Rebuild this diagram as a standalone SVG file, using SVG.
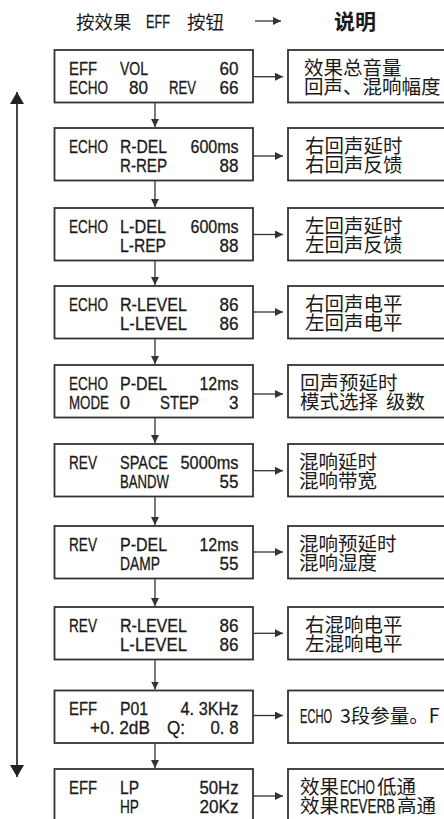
<svg xmlns="http://www.w3.org/2000/svg" width="444" height="819" viewBox="0 0 444 819">
<defs>
<style>
.bx{fill:#fff;stroke:#333;stroke-width:1.8}
.ln{fill:none;stroke:#333;stroke-width:1.3}
.lg{fill:none;stroke:#333;stroke-width:1.8}
.t{font-family:"Liberation Sans",Arial,sans-serif;font-size:18px;fill:#1a1a1a;stroke:#1a1a1a;stroke-width:0.3}
.c{font-family:"Noto Sans CJK SC",sans-serif;font-size:19.5px;fill:#1a1a1a}
.cl{font-family:"Liberation Sans",Arial,sans-serif;font-size:19.5px;fill:#1a1a1a;stroke:#1a1a1a;stroke-width:0.25}
.h{font-family:"Noto Sans CJK SC",sans-serif;font-size:18.5px;fill:#1a1a1a}
.hb{font-family:"Noto Sans CJK SC",sans-serif;font-size:21px;font-weight:bold;fill:#1a1a1a}
</style>
<marker id="ah" markerUnits="userSpaceOnUse" markerWidth="9" markerHeight="8" refX="8" refY="4" orient="auto"><path d="M0,0 L8,4 L0,8 z" fill="#333"/></marker>
<marker id="big" markerUnits="userSpaceOnUse" markerWidth="13" markerHeight="15" refX="12" refY="7" orient="auto-start-reverse"><path d="M0,0 L12,7 L0,14 z" fill="#222"/></marker>
</defs>
<rect width="444" height="819" fill="#fff"/>

<g id="title">
<text class="h" x="76" y="28.5">按效果</text>
<text class="t" x="146" y="28" textLength="24" lengthAdjust="spacingAndGlyphs">EFF</text>
<text class="h" x="187" y="28.5">按钮</text>
<line class="ln" x1="255" y1="21" x2="281" y2="21" marker-end="url(#ah)"/>
<text class="hb" x="334" y="29">说明</text>
</g>

<g id="connectors">
<line class="lg" x1="17" y1="92" x2="17" y2="777" marker-start="url(#big)" marker-end="url(#big)"/>
<line class="ln" x1="254" y1="76.7" x2="283" y2="76.7" marker-end="url(#ah)"/>
<line class="ln" x1="254" y1="156" x2="283" y2="156" marker-end="url(#ah)"/>
<line class="ln" x1="254" y1="234.5" x2="283" y2="234.5" marker-end="url(#ah)"/>
<line class="ln" x1="254" y1="312" x2="283" y2="312" marker-end="url(#ah)"/>
<line class="ln" x1="254" y1="394" x2="283" y2="394" marker-end="url(#ah)"/>
<line class="ln" x1="254" y1="470.7" x2="283" y2="470.7" marker-end="url(#ah)"/>
<line class="ln" x1="254" y1="552" x2="283" y2="552" marker-end="url(#ah)"/>
<line class="ln" x1="254" y1="633.3" x2="283" y2="633.3" marker-end="url(#ah)"/>
<line class="ln" x1="254" y1="715.5" x2="283" y2="715.5" marker-end="url(#ah)"/>
<line class="ln" x1="254" y1="796" x2="283" y2="796" marker-end="url(#ah)"/>
<line class="ln" x1="155" y1="103" x2="155" y2="127" marker-end="url(#ah)"/>
<line class="ln" x1="155" y1="181" x2="155" y2="207" marker-end="url(#ah)"/>
<line class="ln" x1="155" y1="261" x2="155" y2="285" marker-end="url(#ah)"/>
<line class="ln" x1="155" y1="339" x2="155" y2="364" marker-end="url(#ah)"/>
<line class="ln" x1="155" y1="418" x2="155" y2="443" marker-end="url(#ah)"/>
<line class="ln" x1="155" y1="497" x2="155" y2="525" marker-end="url(#ah)"/>
<line class="ln" x1="155" y1="579" x2="155" y2="606" marker-end="url(#ah)"/>
<line class="ln" x1="155" y1="660" x2="155" y2="689.5" marker-end="url(#ah)"/>
<line class="ln" x1="155" y1="743" x2="155" y2="768" marker-end="url(#ah)"/>
</g>

<g id="n1">
<rect class="bx" x="54.5" y="50" width="198.5" height="52.5"/>
<text class="t" y="74.8"><tspan x="69" textLength="28" lengthAdjust="spacingAndGlyphs">EFF</tspan><tspan x="120" textLength="28" lengthAdjust="spacingAndGlyphs">VOL</tspan><tspan x="219.5" textLength="19" lengthAdjust="spacingAndGlyphs">60</tspan><tspan x="69" y="93.8" textLength="39" lengthAdjust="spacingAndGlyphs">ECHO</tspan><tspan x="129" textLength="19" lengthAdjust="spacingAndGlyphs">80</tspan><tspan x="169" textLength="27" lengthAdjust="spacingAndGlyphs">REV</tspan><tspan x="219.5" textLength="19" lengthAdjust="spacingAndGlyphs">66</tspan></text>
</g>
<g id="d1">
<rect class="bx" x="288" y="50" width="200" height="52.5"/>
<text class="c" x="304" y="75">效果总音量<tspan x="304" y="94">回声、混响幅度</tspan></text>
</g>

<g id="n2">
<rect class="bx" x="54.5" y="128" width="198.5" height="52.5"/>
<text class="t" y="152.8"><tspan x="69" textLength="39" lengthAdjust="spacingAndGlyphs">ECHO</tspan><tspan x="120" textLength="47" lengthAdjust="spacingAndGlyphs">R-DEL</tspan><tspan x="190.5" textLength="48" lengthAdjust="spacingAndGlyphs">600ms</tspan><tspan x="120" y="171.8" textLength="47" lengthAdjust="spacingAndGlyphs">R-REP</tspan><tspan x="219.5" textLength="19" lengthAdjust="spacingAndGlyphs">88</tspan></text>
</g>
<g id="d2">
<rect class="bx" x="288" y="128" width="200" height="52.5"/>
<text class="c" x="305" y="153">右回声延时<tspan x="305" y="172">右回声反馈</tspan></text>
</g>

<g id="n3">
<rect class="bx" x="54.5" y="208" width="198.5" height="52.5"/>
<text class="t" y="232.8"><tspan x="69" textLength="39" lengthAdjust="spacingAndGlyphs">ECHO</tspan><tspan x="120" textLength="46" lengthAdjust="spacingAndGlyphs">L-DEL</tspan><tspan x="190.5" textLength="48" lengthAdjust="spacingAndGlyphs">600ms</tspan><tspan x="120" y="251.8" textLength="46" lengthAdjust="spacingAndGlyphs">L-REP</tspan><tspan x="219.5" textLength="19" lengthAdjust="spacingAndGlyphs">88</tspan></text>
</g>
<g id="d3">
<rect class="bx" x="288" y="208" width="200" height="52.5"/>
<text class="c" x="305" y="233">左回声延时<tspan x="305" y="252">左回声反馈</tspan></text>
</g>

<g id="n4">
<rect class="bx" x="54.5" y="286" width="198.5" height="52.5"/>
<text class="t" y="310.8"><tspan x="69" textLength="39" lengthAdjust="spacingAndGlyphs">ECHO</tspan><tspan x="120" textLength="67" lengthAdjust="spacingAndGlyphs">R-LEVEL</tspan><tspan x="219.5" textLength="19" lengthAdjust="spacingAndGlyphs">86</tspan><tspan x="120" y="329.8" textLength="67" lengthAdjust="spacingAndGlyphs">L-LEVEL</tspan><tspan x="219.5" textLength="19" lengthAdjust="spacingAndGlyphs">86</tspan></text>
</g>
<g id="d4">
<rect class="bx" x="288" y="286" width="200" height="52.5"/>
<text class="c" x="305" y="311">右回声电平<tspan x="305" y="330">左回声电平</tspan></text>
</g>

<g id="n5">
<rect class="bx" x="54.5" y="365" width="198.5" height="52.5"/>
<text class="t" y="389.8"><tspan x="69" textLength="39" lengthAdjust="spacingAndGlyphs">ECHO</tspan><tspan x="120" textLength="47" lengthAdjust="spacingAndGlyphs">P-DEL</tspan><tspan x="199.5" textLength="39" lengthAdjust="spacingAndGlyphs">12ms</tspan><tspan x="69" y="408.8" textLength="40" lengthAdjust="spacingAndGlyphs">MODE</tspan><tspan x="120" textLength="10" lengthAdjust="spacingAndGlyphs">0</tspan><tspan x="160" textLength="39" lengthAdjust="spacingAndGlyphs">STEP</tspan><tspan x="229" textLength="9.5" lengthAdjust="spacingAndGlyphs">3</tspan></text>
</g>
<g id="d5">
<rect class="bx" x="288" y="365" width="200" height="52.5"/>
<text class="c" x="300" y="390">回声预延时<tspan x="300" y="409">模式选择</tspan><tspan x="386">级数</tspan></text>
</g>

<g id="n6">
<rect class="bx" x="54.5" y="444" width="198.5" height="52.5"/>
<text class="t" y="468.8"><tspan x="69" textLength="28" lengthAdjust="spacingAndGlyphs">REV</tspan><tspan x="120" textLength="48" lengthAdjust="spacingAndGlyphs">SPACE</tspan><tspan x="180.5" textLength="58" lengthAdjust="spacingAndGlyphs">5000ms</tspan><tspan x="120" y="487.8" textLength="49" lengthAdjust="spacingAndGlyphs">BANDW</tspan><tspan x="219.5" textLength="19" lengthAdjust="spacingAndGlyphs">55</tspan></text>
</g>
<g id="d6">
<rect class="bx" x="288" y="444" width="200" height="52.5"/>
<text class="c" x="299" y="469">混响延时<tspan x="299" y="488">混响带宽</tspan></text>
</g>

<g id="n7">
<rect class="bx" x="54.5" y="526" width="198.5" height="52.5"/>
<text class="t" y="550.8"><tspan x="69" textLength="28" lengthAdjust="spacingAndGlyphs">REV</tspan><tspan x="120" textLength="47" lengthAdjust="spacingAndGlyphs">P-DEL</tspan><tspan x="199.5" textLength="39" lengthAdjust="spacingAndGlyphs">12ms</tspan><tspan x="120" y="569.8" textLength="40" lengthAdjust="spacingAndGlyphs">DAMP</tspan><tspan x="219.5" textLength="19" lengthAdjust="spacingAndGlyphs">55</tspan></text>
</g>
<g id="d7">
<rect class="bx" x="288" y="526" width="200" height="52.5"/>
<text class="c" x="299" y="551">混响预延时<tspan x="299" y="570">混响湿度</tspan></text>
</g>

<g id="n8">
<rect class="bx" x="54.5" y="607" width="198.5" height="52.5"/>
<text class="t" y="631.8"><tspan x="69" textLength="28" lengthAdjust="spacingAndGlyphs">REV</tspan><tspan x="120" textLength="67" lengthAdjust="spacingAndGlyphs">R-LEVEL</tspan><tspan x="219.5" textLength="19" lengthAdjust="spacingAndGlyphs">86</tspan><tspan x="120" y="650.8" textLength="67" lengthAdjust="spacingAndGlyphs">L-LEVEL</tspan><tspan x="219.5" textLength="19" lengthAdjust="spacingAndGlyphs">86</tspan></text>
</g>
<g id="d8">
<rect class="bx" x="288" y="607" width="200" height="52.5"/>
<text class="c" x="305" y="632">右混响电平<tspan x="305" y="651">左混响电平</tspan></text>
</g>

<g id="n9">
<rect class="bx" x="54.5" y="690.5" width="198.5" height="52.5"/>
<text class="t" y="715.3"><tspan x="69" textLength="28" lengthAdjust="spacingAndGlyphs">EFF</tspan><tspan x="120" textLength="28" lengthAdjust="spacingAndGlyphs">P01</tspan><tspan x="180.5" textLength="58" lengthAdjust="spacingAndGlyphs">4. 3KHz</tspan><tspan x="90" y="734.3" textLength="60" lengthAdjust="spacingAndGlyphs">+0. 2dB</tspan><tspan x="167" textLength="18" lengthAdjust="spacingAndGlyphs">Q:</tspan><tspan x="210.5" textLength="28" lengthAdjust="spacingAndGlyphs">0. 8</tspan></text>
</g>
<g id="d9">
<rect class="bx" x="288" y="690.5" width="200" height="52.5"/>
<text class="c" x="300" y="723"><tspan class="cl" textLength="32" lengthAdjust="spacingAndGlyphs">ECHO</tspan><tspan x="340">3段参量。F</tspan></text>
</g>

<g id="n10">
<rect class="bx" x="54.5" y="769" width="198.5" height="52.5"/>
<text class="t" y="793.8"><tspan x="69" textLength="28" lengthAdjust="spacingAndGlyphs">EFF</tspan><tspan x="120" textLength="19" lengthAdjust="spacingAndGlyphs">LP</tspan><tspan x="199.5" textLength="39" lengthAdjust="spacingAndGlyphs">50Hz</tspan><tspan x="120" y="812.8" textLength="19" lengthAdjust="spacingAndGlyphs">HP</tspan><tspan x="199.5" textLength="39" lengthAdjust="spacingAndGlyphs">20Kz</tspan></text>
</g>
<g id="d10">
<rect class="bx" x="288" y="769" width="200" height="52.5"/>
<text class="c" x="300" y="794">效果<tspan class="cl" x="340" textLength="35" lengthAdjust="spacingAndGlyphs">ECHO</tspan><tspan x="377">低通</tspan><tspan x="300" y="813">效果</tspan><tspan class="cl" x="340" textLength="55" lengthAdjust="spacingAndGlyphs">REVERB</tspan><tspan x="397">高通</tspan></text>
</g>
</svg>
